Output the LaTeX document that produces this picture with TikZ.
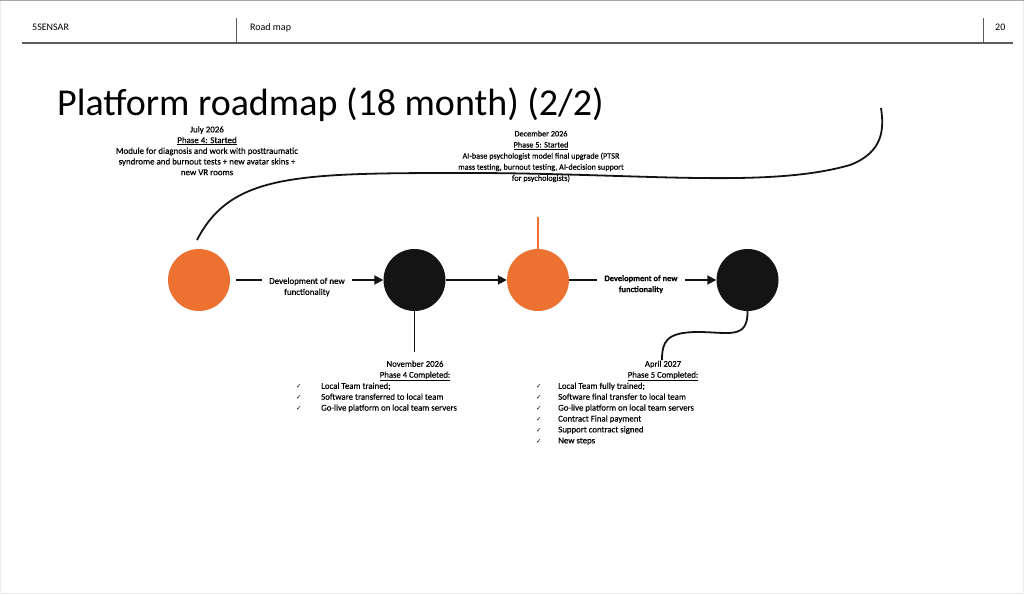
\documentclass[tikz,border=0pt]{standalone}
\usepackage{fontspec}
\setmainfont{Carlito}
\newfontfamily\symfont{DejaVu Sans}
\newfontfamily\semib[FakeBold=0.4]{Carlito}
\newfontfamily\heavyb[FakeBold=0.3]{Carlito Bold}
\usetikzlibrary{arrows.meta}
\definecolor{orng}{RGB}{237,113,49}
\definecolor{blk}{RGB}{20,20,20}
\definecolor{hdrgray}{RGB}{96,90,88}
\newcommand\chkmark[1]{\makebox[#1][l]{\symfont\fontsize{6.5}{6.5}\selectfont ✓}}
\begin{document}
\begin{tikzpicture}[x=1pt,y=-1pt,
  every node/.style={inner sep=0pt},
  milestone/.style={circle,minimum size=62pt,inner sep=0pt},
  orangems/.style={milestone,fill=orng},
  blackms/.style={milestone,fill=blk},
  conn/.style={line width=1.8pt,draw=blk},
  arrowconn/.style={conn,-{Triangle[length=9pt,width=9pt]}},
  steplabel/.style={fill=white,align=center,anchor=north,inner xsep=7pt,inner ysep=1pt,font=\semib\fontsize{8.9}{11}\selectfont},
  hdrtext/.style={anchor=base west,font=\fontsize{10}{12}\selectfont},
  hdrline/.style={draw=hdrgray,line width=1.2pt},
  noteblock/.style={align=center,anchor=north},
  checklist/.style={align=left,anchor=north west,font=\semib\fontsize{8.8}{10.9}\selectfont},
  curve/.style={line width=1.8pt,draw=blk}
]
\useasboundingbox (0,0) rectangle (1024,594);
% page frame
\draw[draw=black!8,line width=0.8pt] (0.5,0.5) rectangle (1023.5,593.5);
\draw[draw=black!35,line width=1.2pt] (0,0.6) -- (1024,0.6);

% header
\node[hdrtext] (brand) at (32,31) {5SENSAR};
\node[hdrtext] (section) at (250,31) {Road map};
\node[hdrtext] (pagenum) at (995,31) {20};
\draw[hdrline] (22,43) -- (1013,43);
\draw[hdrgray,line width=1pt] (236,18) -- (236,43);
\draw[hdrgray,line width=1pt] (983,18) -- (983,43);

% title
\node[anchor=base west,font=\fontsize{38}{42}\selectfont] (title) at (57,115) {Platform roadmap (18 month) (2/2)};

% milestones
\node[orangems] (c1) at (199,280) {};
\node[blackms]  (c2) at (414.5,280) {};
\node[orangems] (c3) at (538,280) {};
\node[blackms]  (c4) at (747.5,280) {};

% connectors
\draw[arrowconn,shorten <=6pt] (c1) -- (c2);
\node[steplabel] (lab1) at (307,276.5) {Development of new\\functionality};
\draw[arrowconn] (c2) -- (c3);
\draw[arrowconn] (c3) -- (c4);
\node[steplabel,font=\heavyb\fontsize{8.4}{11}\selectfont] (lab2) at (641,274) {Development of new\\functionality};

% stems
\coordinate (n2) at (414.5,352);
\draw[conn] (c2.center) ++(0,10) -- (n2);
\coordinate (n3) at (538,217);
\draw[draw=orng,line width=1.5pt] (c3.north) -- (n3);

% long curve from phase 4 start
\coordinate (s1) at (197,240);
\coordinate (e1) at (881,108);
\draw[curve] (s1) .. controls (232,172) and (300,173) .. (480,173)
  .. controls (650,174) and (770,188) .. (850,165)
  .. controls (884,152) and (884,128) .. (e1);

% curve from last milestone
\coordinate (e2) at (662,360);
\draw[curve] (c4.south) .. controls (748,340) and (728,332) .. (698,332)
  .. controls (666,332) and (662,342) .. (e2);

% text blocks
\node[noteblock,font=\semib\fontsize{8.9}{10.7}\selectfont] (noteA) at (207,126)
  {July 2026\\\underline{Phase 4: Started}\\Module for diagnosis and work with posttraumatic\\syndrome and burnout tests + new avatar skins +\\new VR rooms};
\node[noteblock,font=\semib\fontsize{8.2}{11.1}\selectfont] (noteB) at (541,130.5)
  {December 2026\\\underline{Phase 5: Started}\\AI-base psychologist model final upgrade (PTSR\\mass testing, burnout testing, AI-decision support\\for psychologists)};

\node[noteblock,font=\semib\fontsize{8.7}{10.9}\selectfont] (noteC) at (415,360.5)
  {November 2026\\\underline{Phase 4 Completed:}};
\node[checklist] (listC) at (296,382.5)
  {\chkmark{25pt}Local Team trained;\\
   \chkmark{25pt}Software transferred to local team\\
   \chkmark{25pt}Go-live platform on local team servers};

\node[noteblock,font=\semib\fontsize{8.7}{10.9}\selectfont] (noteD) at (663,360.5)
  {April 2027\\\underline{Phase 5 Completed:}};
\node[checklist] (listD) at (536,382.5)
  {\chkmark{22pt}Local Team fully trained;\\
   \chkmark{22pt}Software final transfer to local team\\
   \chkmark{22pt}Go-live platform on local team servers\\
   \chkmark{22pt}Contract Final payment\\
   \chkmark{22pt}Support contract signed\\
   \chkmark{22pt}New steps};
\end{tikzpicture}
\end{document}
